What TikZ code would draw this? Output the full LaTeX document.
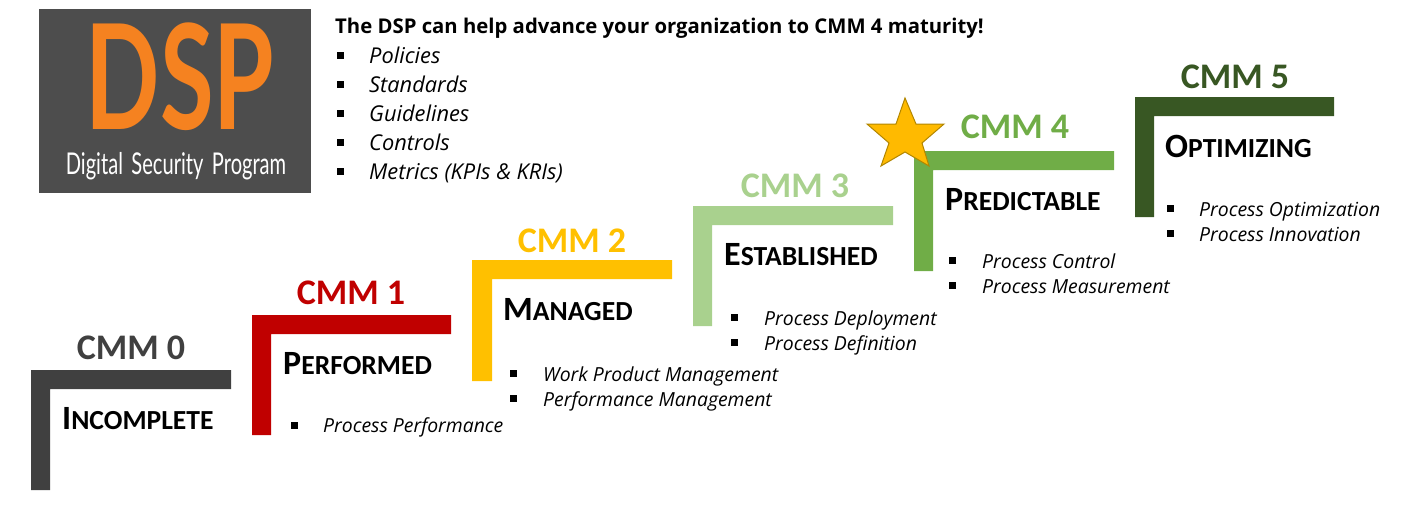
\documentclass[tikz,border=0pt]{standalone}
\usepackage{fontspec}
\setmainfont{Open Sans}
\newfontfamily\titlefont{Carlito}
\newfontfamily\logofont{Lato}
\definecolor{cmmzero}{HTML}{404040}
\definecolor{cmmone}{HTML}{C00000}
\definecolor{cmmtwo}{HTML}{FFC000}
\definecolor{cmmthree}{HTML}{A9D18E}
\definecolor{cmmfour}{HTML}{70AD47}
\definecolor{cmmfive}{HTML}{385723}
\definecolor{logogray}{HTML}{4D4D4D}
\definecolor{logoorange}{HTML}{F58220}
\newcommand{\capword}[2]{{\fontsize{34}{38}\selectfont #1}{\fontsize{27.6}{30}\selectfont #2}}
\begin{document}
\begin{tikzpicture}[x=1pt,y=-1pt]
	\tikzset{levellabel/.style={font=\titlefont\bfseries\fontsize{36}{40}\selectfont,inner sep=0pt}}
	\tikzset{leveltitle/.style={font=\titlefont\bfseries,anchor=west,inner sep=0pt,text=black}}
	\tikzset{itemtext/.style={font=\itshape\fontsize{19.4}{22}\selectfont,anchor=base west,inner sep=0pt}}
	\tikzset{listtext/.style={font=\itshape\fontsize{21.8}{24}\selectfont,anchor=base west,inner sep=0pt}}
	\tikzset{bulletbox/.style={fill=black,inner sep=0pt,minimum size=7pt}}
	\useasboundingbox (0,0) rectangle (1411,507);
	% logo
	\fill [logogray] (39,9) rectangle (311,193);
	\node (dsp) [font=\logofont\bfseries\fontsize{146}{150}\selectfont,text=logoorange,inner sep=0pt,xscale=.67,transform shape] at (180,77) {DSP};
	\node (program) [font=\logofont\fontsize{30}{34}\selectfont,text=white,inner sep=0pt,xscale=.67,transform shape] at (176,166) {Digital\, Security\, Program};
	% heading and list
	\node (heading) [font=\bfseries\fontsize{20.3}{24}\selectfont,anchor=west,inner sep=0pt] at (335,28) {The DSP can help advance your organization to CMM 4 maturity!};
	\node (b1) [bulletbox] at (340,55) {};
	\node (policies) [listtext] at (369,63) {Policies};
	\node (b2) [bulletbox] at (340,84) {};
	\node (standards) [listtext] at (369,92) {Standards};
	\node (b3) [bulletbox] at (340,113) {};
	\node (guidelines) [listtext] at (369,121) {Guidelines};
	\node (b4) [bulletbox] at (340,142) {};
	\node (controls) [listtext] at (369,150) {Controls};
	\node (b5) [bulletbox] at (340,171) {};
	\node (metrics) [listtext] at (369,179) {Metrics (KPIs \& KRIs)};
	% steps
	\fill [cmmzero] (31,370) -- (231,370) -- (231,389) -- (50,389) -- (50,490) -- (31,490) -- cycle;
	\fill [cmmone] (252,315) -- (451,315) -- (451,334) -- (271,334) -- (271,435) -- (252,435) -- cycle;
	\fill [cmmtwo] (472,260) -- (672,260) -- (672,279) -- (492,279) -- (492,381) -- (472,381) -- cycle;
	\fill [cmmthree] (693,206) -- (893,206) -- (893,225) -- (712,225) -- (712,326) -- (693,326) -- cycle;
	\fill [cmmfour] (914,151) -- (1114,151) -- (1114,170) -- (933,170) -- (933,271) -- (914,271) -- cycle;
	\fill [cmmfive] (1135,97) -- (1334,97) -- (1334,116) -- (1154,116) -- (1154,217) -- (1135,217) -- cycle;
	% star
	\filldraw [fill=cmmtwo!90!orange,draw=cmmtwo!70!black,line width=1pt] (905,98) -- (916,124) -- (944,124) -- (922,143) -- (929,166) -- (905,152) -- (881,166) -- (889,143) -- (867,124) -- (896,124) -- cycle;
	% level labels
	\node (cmm0) [levellabel,text=cmmzero] at (131,348) {CMM 0};
	\node (cmm1) [levellabel,text=cmmone] at (351,293) {CMM 1};
	\node (cmm2) [levellabel,text=cmmtwo] at (572,241) {CMM 2};
	\node (cmm3) [levellabel,text=cmmthree] at (795,186) {CMM 3};
	\node (cmm4) [levellabel,text=cmmfour] at (1015,127) {CMM 4};
	\node (cmm5) [levellabel,text=cmmfive] at (1235,77) {CMM 5};
	% level titles
	\node (incomplete) [leveltitle] at (62,419) {\capword{I}{NCOMPLETE}};
	\node (performed) [leveltitle] at (283,364) {\capword{P}{ERFORMED}};
	\node (managed) [leveltitle] at (503,310) {\capword{M}{ANAGED}};
	\node (established) [leveltitle] at (724,255) {\capword{E}{STABLISHED}};
	\node (predictable) [leveltitle] at (945,200) {\capword{P}{REDICTABLE}};
	\node (optimizing) [leveltitle] at (1165,146) {\capword{O}{PTIMIZING}};
	% process lists
	\node (b11) [bulletbox] at (294,425) {};
	\node (perf) [itemtext] at (323,432) {Process Performance};
	\node (b21) [bulletbox] at (513,373) {};
	\node (work) [itemtext] at (543,381) {Work Product Management};
	\node (b22) [bulletbox] at (513,398) {};
	\node (perfman) [itemtext] at (543,406) {Performance Management};
	\node (b31) [bulletbox] at (734,317) {};
	\node (deploy) [itemtext] at (764,325) {Process Deployment};
	\node (b32) [bulletbox] at (734,342) {};
	\node (define) [itemtext] at (764,350) {Process Definition};
	\node (b41) [bulletbox] at (952,260) {};
	\node (control) [itemtext] at (982,268) {Process Control};
	\node (b42) [bulletbox] at (952,285) {};
	\node (measure) [itemtext] at (982,293) {Process Measurement};
	\node (b51) [bulletbox] at (1170,208) {};
	\node (optim) [itemtext] at (1199,216) {Process Optimization};
	\node (b52) [bulletbox] at (1170,233) {};
	\node (innov) [itemtext] at (1199,241) {Process Innovation};
\end{tikzpicture}
\end{document}
